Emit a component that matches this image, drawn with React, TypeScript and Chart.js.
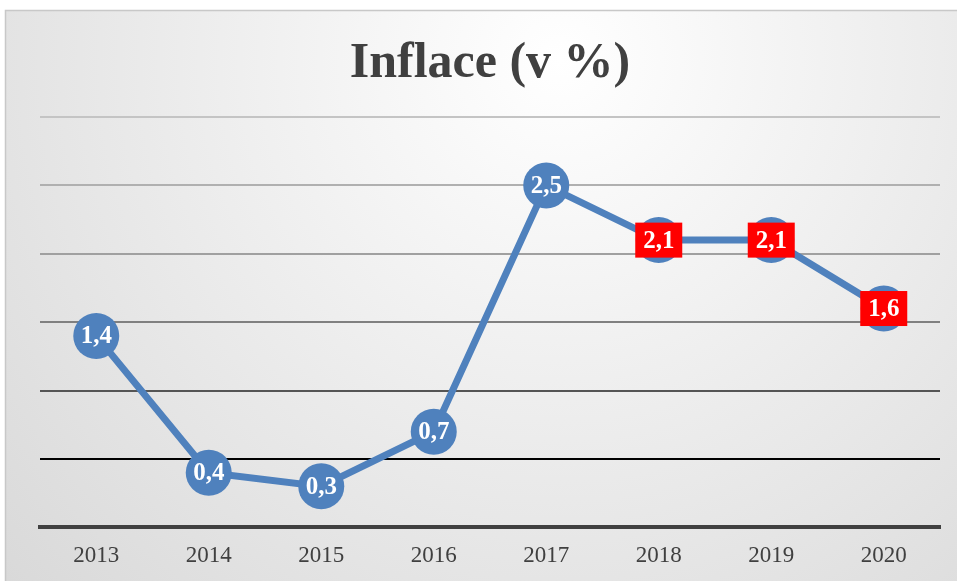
import React, { useEffect, useRef } from "react";
import { Chart, registerables } from "chart.js";

Chart.register(...registerables);

const years = ["2013", "2014", "2015", "2016", "2017", "2018", "2019", "2020"];
const inflation = [1.4, 0.4, 0.3, 0.7, 2.5, 2.1, 2.1, 1.6];
const boxedLabel = [false, false, false, false, false, true, true, true];
const gridColors: Record<string, string> = {
  "0": "#404040",
  "0.5": "#000000",
  "1": "#555555",
  "1.5": "#808080",
  "2": "#a0a0a0",
  "2.5": "#b0b0b0",
  "3": "#c4c4c4",
};

const bgPlugin = {
  id: "bgPlugin",
  beforeDraw(chart: any) {
    const { ctx, width, height } = chart;
    ctx.save();
    ctx.fillStyle = "#ffffff";
    ctx.fillRect(0, 0, width, height);
    const g = ctx.createRadialGradient(560, 60, 0, 560, 60, 820);
    g.addColorStop(0, "#ffffff");
    g.addColorStop(1, "#d6d6d6");
    ctx.fillStyle = g;
    ctx.fillRect(5, 10, width, height);
    ctx.strokeStyle = "#c8c8c8";
    ctx.lineWidth = 1.5;
    ctx.strokeRect(5.5, 10.5, width + 10, height + 10);
    ctx.restore();
  },
};

const labelPlugin = {
  id: "labelPlugin",
  afterDatasetsDraw(chart: any) {
    const { ctx } = chart;
    const meta = chart.getDatasetMeta(0);
    ctx.save();
    ctx.font = "bold 25px 'Liberation Serif', 'Times New Roman', serif";
    ctx.textAlign = "center";
    ctx.textBaseline = "middle";
    meta.data.forEach((pt: any, i: number) => {
      const text = inflation[i].toFixed(1).replace(".", ",");
      if (boxedLabel[i]) {
        ctx.fillStyle = "#ff0000";
        ctx.fillRect(pt.x - 23.5, pt.y - 17.5, 47, 35);
      }
      ctx.fillStyle = "#ffffff";
      ctx.fillText(text, pt.x, pt.y + 1);
    });
    ctx.restore();
  },
};

export default function App() {
  const ref = useRef<HTMLCanvasElement | null>(null);
  useEffect(() => {
    if (!ref.current) return;
    const chart = new Chart(ref.current, {
      type: "line",
      data: {
        labels: years,
        datasets: [
          {
            data: inflation,
            borderColor: "#4f81bd",
            backgroundColor: "#4f81bd",
            borderWidth: 7,
            pointRadius: 23,
            pointHoverRadius: 23,
            pointBackgroundColor: "#4f81bd",
            pointBorderWidth: 0,
            tension: 0,
            clip: false,
          },
        ],
      },
      options: {
        animation: false,
        responsive: false,
        layout: { autoPadding: false, padding: { left: 40, right: 17, top: 0, bottom: -4 } },
        plugins: {
          legend: { display: false },
          tooltip: { enabled: false },
          title: {
            display: true,
            text: "Inflace (v %)",
            color: "#404040",
            font: { family: "'Liberation Serif', 'Times New Roman', serif", size: 50, weight: "bold", lineHeight: 1.2 },
            padding: { top: 34, bottom: 23 },
          },
        },
        scales: {
          x: {
            offset: true,
            grid: { display: false, drawTicks: false },
            border: { display: true, color: "#404040", width: 4 },
            ticks: {
              color: "#404040",
              padding: 15,
              font: { family: "'Liberation Serif', 'Times New Roman', serif", size: 23 },
            },
          },
          y: {
            min: 0,
            max: 3,
            ticks: { display: false, stepSize: 0.5 },
            border: { display: false },
            grid: {
              drawTicks: false,
              lineWidth: 2,
              color: (c: any) => gridColors[String(c.tick?.value)] || "#999999",
            },
          },
        },
      },
      plugins: [bgPlugin, labelPlugin],
    });
    return () => chart.destroy();
  }, []);
  return (
    <div style={{ position: "absolute", left: 0, top: 0, width: 957, height: 581 }}>
      <canvas ref={ref} width={957} height={581} style={{ width: 957, height: 581 }} />
    </div>
  );
}
